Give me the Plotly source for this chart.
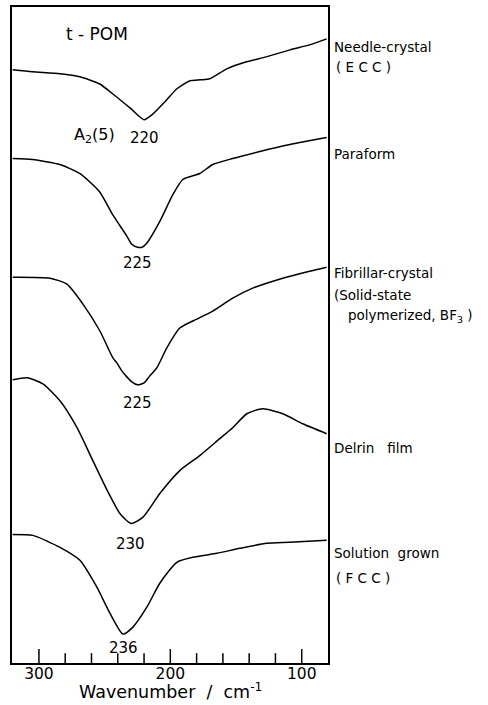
import plotly.graph_objects as go

# Far-IR spectra of t-POM samples (transmittance, arbitrary units, stacked)
wn_needle = [320, 305, 284, 269, 254, 243, 230, 220, 213, 204, 195, 185, 177, 170, 157, 142, 127, 109, 94, 81]
t_needle = [595, 593, 591, 588, 581, 570, 556, 545, 551, 563, 576, 584, 585, 586, 596, 603, 608, 615, 620, 626]

wn_paraform = [320, 305, 284, 269, 254, 244, 233, 229.3, 225, 221.5, 218, 208, 198, 190.5, 177.6, 167.7, 152.5,
               131.9, 109, 81]
t_paraform = [506, 505, 500, 491, 473, 450, 428, 420, 417, 417, 421, 443, 470, 485, 491, 500, 506, 513, 520, 527]

wn_fibrillar = [320, 291.6, 278.7, 266.5, 253.6, 243.7, 240.7, 236.9, 233.1, 229.3, 225, 220, 215.6, 210.3,
                202.7, 192.8, 182.9, 167.7, 152.5, 137.3, 114.4, 94, 81]
t_fibrillar = [387, 386, 380, 360, 333, 306, 301, 293, 287, 282, 279, 281, 288, 296, 316, 336, 343, 353, 366,
               376, 386, 393, 397]

wn_delrin = [320, 309, 297, 284, 271, 259, 248, 238.4, 230, 221, 208, 192.8, 177.6, 162.4, 152.5, 141.8, 129.7,
             114.4, 99.2, 81]
t_delrin = [284, 286, 280, 263, 236, 203, 173, 150, 140, 146, 170, 193, 208, 225, 236, 250, 255, 250, 240, 230]

wn_solution = [320, 304.6, 284, 268.8, 255.9, 246, 236, 228.5, 217.9, 208, 195.1, 182.9, 164.6, 147.1, 126.6,
               109.1, 81]
t_solution = [129, 128, 116, 103, 76, 50, 29, 36, 56, 80, 101, 106, 110, 115, 120, 121, 123]

peak_positions = [220, 225, 225, 230, 236]
peak_labels = ["220", "225", "225", "230", "236"]
peak_label_gap = [18, 16, 18, 21, 14]  # px below each band minimum

# wavenumber ticks: labelled every 100, small marks every 20
major_ticks = [300, 200, 100]
minor_ticks = [300, 280, 260, 240, 220, 200, 180, 160, 140, 120, 100]

NB = "&nbsp;"
sample_labels = [
    ("Needle-crystal", 618, 0),
    ("(" + NB + "E" + NB + "C" + NB + "C" + NB + ")", 598, 2),
    ("Paraform", 511, 0),
    ("Fibrillar-crystal", 391, 0),
    ("(Solid-state", 369, 0),
    ("polymerized, BF<sub>3</sub> )", 348, 14),
    ("Delrin" + NB * 3 + "film", 216, 0),
    ("Solution" + NB * 2 + "grown", 110, 0),
    ("(" + NB + "F" + NB + "C" + NB + "C" + NB + ")", 85, 2),
]

spectra = [
    (wn_needle, t_needle),
    (wn_paraform, t_paraform),
    (wn_fibrillar, t_fibrillar),
    (wn_delrin, t_delrin),
    (wn_solution, t_solution),
]

FONT = "DejaVu Sans"
BLACK = "black"
Y_RANGE = [0, 658]

fig = go.Figure()
for wn, t in spectra:
    fig.add_trace(go.Scatter(x=wn, y=t, mode="lines",
                             line=dict(color=BLACK, width=1.5, shape="spline", smoothing=0.6),
                             showlegend=False, hoverinfo="skip"))

# tick marks standing up from the bottom frame (lower half clipped by the plot area)
minor_only = [v for v in minor_ticks if v not in major_ticks]
fig.add_trace(go.Scatter(x=minor_only, y=[Y_RANGE[0]] * len(minor_only), mode="markers", cliponaxis=True,
                         marker=dict(symbol="line-ns", size=14, line=dict(width=1.5, color=BLACK)),
                         showlegend=False, hoverinfo="skip"))
fig.add_trace(go.Scatter(x=major_ticks, y=[Y_RANGE[0]] * len(major_ticks), mode="markers", cliponaxis=True,
                         marker=dict(symbol="line-ns", size=20, line=dict(width=1.5, color=BLACK)),
                         showlegend=False, hoverinfo="skip"))

annotations = []
for (wn, t), pk, lab, gap in zip(spectra, peak_positions, peak_labels, peak_label_gap):
    annotations.append(dict(x=pk, y=min(t), xref="x", yref="y", text=lab, showarrow=False,
                            yanchor="middle", yshift=-gap, font=dict(size=15, family=FONT, color=BLACK)))

annotations.append(dict(x=peak_positions[0], y=min(t_needle), xref="x", yref="y",
                        text="A<sub>2</sub>(5)", showarrow=False, xanchor="right", xshift=-27,
                        yanchor="middle", yshift=-16, font=dict(size=16, family=FONT, color=BLACK)))
annotations.append(dict(x=256, y=631, xref="x", yref="y", text="t" + NB + "-" + NB + "POM", showarrow=False,
                        font=dict(size=17, family=FONT, color=BLACK)))

for text, y, dx in sample_labels:
    annotations.append(dict(x=1, y=y, xref="paper", yref="y", text=text, showarrow=False,
                            xanchor="left", xshift=4 + dx, yanchor="middle",
                            font=dict(size=13.5, family=FONT, color=BLACK)))

# axis title
annotations.append(dict(x=0.5, y=0, xref="paper", yref="paper", yanchor="middle", yshift=-28,
                        text="Wavenumber" + NB * 2 + "/" + NB * 2 + "cm<sup>-1</sup>", showarrow=False,
                        font=dict(size=17.5, family=FONT, color=BLACK)))

fig.update_layout(
    width=488, height=705,
    margin=dict(l=12, r=160, t=5, b=42),
    paper_bgcolor="white", plot_bgcolor="white",
    annotations=annotations,
    xaxis=dict(
        range=[320.5, 80], showgrid=False, zeroline=False,
        showline=True, linecolor=BLACK, linewidth=1.5, mirror=True,
        tickmode="array", tickvals=major_ticks, ticks="",
        ticklabelstandoff=-4,
        tickfont=dict(size=15.5, family=FONT, color=BLACK),
    ),
    yaxis=dict(
        range=Y_RANGE, showgrid=False, zeroline=False, showticklabels=False,
        showline=True, linecolor=BLACK, linewidth=1.5, mirror=True,
    ),
)

fig.write_html("out.html")
